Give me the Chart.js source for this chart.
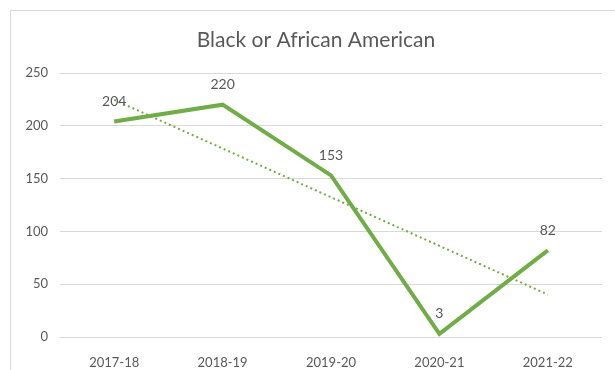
<!DOCTYPE html>
<html>
<head>
<meta charset="utf-8">
<script src="https://cdn.jsdelivr.net/npm/chart.js@4"></script>
<style>
  html, body { margin: 0; padding: 0; background: #fff; }
  #wrap { position: relative; width: 615px; height: 370px; overflow: hidden; }
  #frame { position: absolute; left: 10px; top: 10px; width: 700px; height: 500px; border: 1px solid #d9d9d9; }
  canvas { position: absolute; left: 0; top: 0; }
</style>
</head>
<body>
<div id="wrap">
  <div id="frame"></div>
  <canvas id="chart" width="615" height="370"></canvas>
</div>
<script>
// datos
const years = ['2017-18', '2018-19', '2019-20', '2020-21', '2021-22'];
const students = [204, 220, 153, 3, 82];
const trend = [224.6, 178.5, 132.4, 86.3, 40.2]; // línea de tendencia (punteada)
const yTicks = [0, 50, 100, 150, 200, 250];

const green = '#70AD47';
const textGray = '#595959';

/* Título y etiquetas de valor dibujados a mano */
const labelsPlugin = {
  id: 'labels',
  afterDatasetsDraw(chart) {
    const ctx = chart.ctx;
    ctx.save();
    ctx.fillStyle = textGray;
    ctx.textAlign = 'center';
    ctx.textBaseline = 'middle';
    ctx.font = '21px Lato';
    ctx.fillText('Black or African American', 316, 40);
    ctx.font = '14px Lato';
    chart.getDatasetMeta(0).data.forEach((pt, i) => {
      ctx.fillText(String(students[i]), pt.x, pt.y - 20);
    });
    ctx.restore();
  }
};

new Chart(document.getElementById('chart'), {
  type: 'line',
  data: {
    labels: years,
    datasets: [{
      label: 'Black or African American',
      data: students,
      borderColor: green,
      borderWidth: 4,
      pointRadius: 0,
      tension: 0,
      fill: false
    }, {
      label: 'Tendencia',
      data: trend,
      borderColor: green,
      borderWidth: 2,
      borderDash: [2, 3],
      pointRadius: 0,
      tension: 0,
      fill: false
    }]
  },
  options: {
    responsive: false,
    animation: false,
    layout: { padding: { top: 73, right: 13, left: 0, bottom: 0 } },
    scales: {
      x: {
        offset: true,
        grid: { display: false },
        border: { display: false },
        ticks: { color: textGray, font: { family: 'Lato', size: 13 }, padding: 10, maxRotation: 0 },
        afterFit: s => { s.height = 33; }
      },
      y: {
        min: 0,
        max: 250,
        afterBuildTicks: s => { s.ticks = yTicks.map(v => ({ value: v })); },
        grid: { color: '#d9d9d9', drawTicks: false },
        border: { display: false },
        ticks: { color: textGray, font: { family: 'Lato', size: 13 }, padding: 12 },
        afterFit: s => { s.width = 60; }
      }
    },
    plugins: {
      legend: { display: false },
      title: { display: false },
      tooltip: { enabled: false }
    }
  },
  plugins: [labelsPlugin]
});
</script>
</body>
</html>
